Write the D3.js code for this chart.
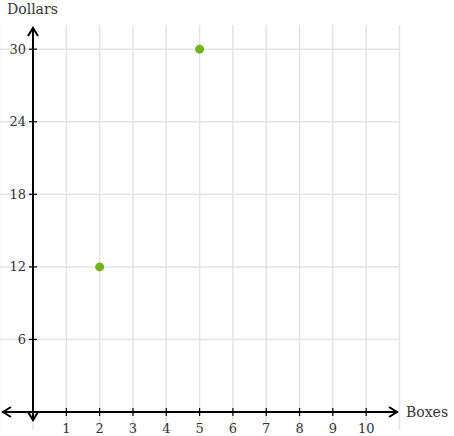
<!DOCTYPE html>
<html><head><meta charset="utf-8">
<script src="https://cdn.jsdelivr.net/npm/d3@7"></script>
<style>body{margin:0;background:#fff;} svg{display:block;} text{font-family:"DejaVu Serif",serif;}</style>
</head><body>
<svg id="c" width="454" height="436"></svg>
<script>
const xTicks = [1,2,3,4,5,6,7,8,9,10];
const yTicks = [6,12,18,24,30];
const pointsX = [2,5];
const pointsY = [12,30];
const xLabel = "Boxes";
const yLabel = "Dollars";

const svg = d3.select("#c");
const x = d3.scaleLinear().domain([0,11]).range([33,399.5]);
const y = d3.scaleLinear().domain([0,32]).range([412,25]);

// grid
const g = svg.append("g");
const vGrid = d3.range(-1,12);
g.selectAll("line.v").data(vGrid).join("line")
  .attr("x1",d=>x(d)).attr("x2",d=>x(d)).attr("y1",y(32)).attr("y2",y(-1.5))
  .attr("stroke",d=>d<0?"#f0f0f0":"#e3e3e3").attr("stroke-width",1.5);
g.selectAll("line.h").data(yTicks).join("line")
  .attr("x1",x(-1)).attr("x2",x(11)).attr("y1",d=>y(d)).attr("y2",d=>y(d))
  .attr("stroke","#e3e3e3").attr("stroke-width",1.5);

// axes lines
const ax = svg.append("g").attr("stroke","#000").attr("stroke-width",2).attr("fill","none");
ax.append("line").attr("x1",3).attr("x2",397).attr("y1",y(0)).attr("y2",y(0));
ax.append("line").attr("x1",x(0)).attr("x2",x(0)).attr("y1",28).attr("y2",420);
ax.append("path").attr("d",`M${x(0)-5},${36} L${x(0)},${28} L${x(0)+5},${36}`);
ax.append("path").attr("d",`M${x(0)-5},${412} L${x(0)},${420} L${x(0)+5},${412}`);
ax.append("path").attr("d",`M11,${y(0)-5} L3,${y(0)} L11,${y(0)+5}`);
ax.append("path").attr("d",`M389,${y(0)-5} L397,${y(0)} L389,${y(0)+5}`);

// ticks
const tk = svg.append("g").attr("stroke","#000").attr("stroke-width",1.2);
tk.selectAll("line.xt").data(xTicks).join("line")
  .attr("x1",d=>x(d)).attr("x2",d=>x(d)).attr("y1",y(0)-4).attr("y2",y(0)+4);
tk.selectAll("line.yt").data(yTicks).join("line")
  .attr("y1",d=>y(d)).attr("y2",d=>y(d)).attr("x1",x(0)-4).attr("x2",x(0)+4);

// tick labels
svg.append("g").selectAll("text").data(xTicks).join("text")
  .attr("x",d=>x(d)).attr("y",433).attr("text-anchor","middle")
  .style("font-size","13px").attr("fill","#333").text(d=>d);
svg.append("g").selectAll("text").data(yTicks).join("text")
  .attr("x",x(0)-7).attr("y",d=>y(d)).attr("dy","0.35em").attr("text-anchor","end")
  .style("font-size","13px").attr("fill","#333").text(d=>d);

// axis labels
svg.append("text").attr("x",7).attr("y",14).style("font-size","14px").attr("fill","#333").text(yLabel);
svg.append("text").attr("x",406).attr("y",y(0)).attr("dy","0.35em").style("font-size","14px").attr("fill","#333").text(xLabel);

// points
svg.append("g").selectAll("circle").data(pointsX.map((d,i)=>[d,pointsY[i]])).join("circle")
  .attr("cx",d=>x(d[0])).attr("cy",d=>y(d[1])).attr("r",4.5).attr("fill","#74b41b");
</script>
</body></html>
